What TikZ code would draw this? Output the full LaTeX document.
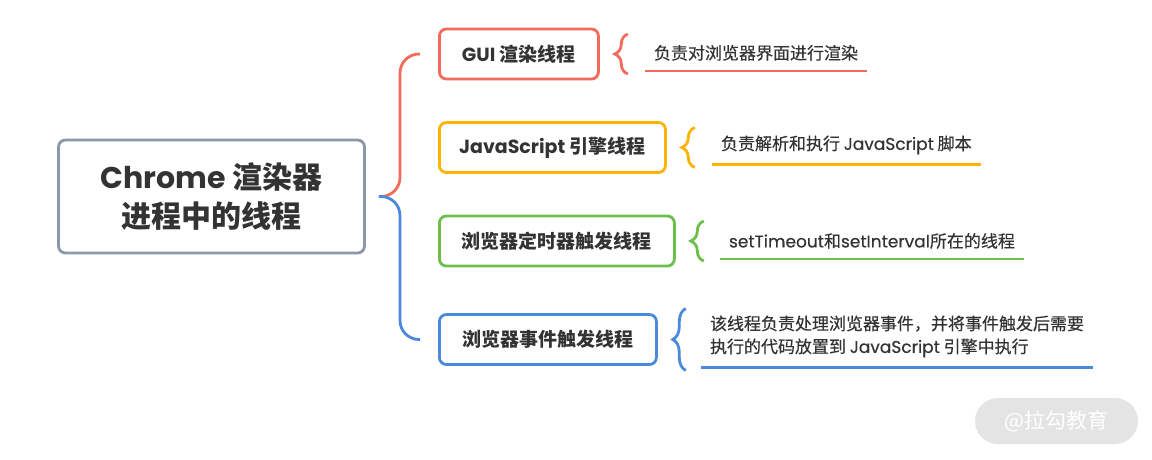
\documentclass[tikz,border=0pt]{standalone}
\usepackage{fontspec}
\setmainfont{Noto Sans CJK SC}
\newfontfamily\lat{Poppins}
\newfontfamily\medfont[FakeBold=0.35]{Noto Sans CJK SC}
\newfontfamily\medlat[FakeBold=0.35]{Poppins}
\usetikzlibrary{positioning,calc,decorations.pathreplacing}
\definecolor{rootc}{HTML}{8C97A8}
\definecolor{guic}{HTML}{F26B5B}
\definecolor{jsc}{HTML}{FDB300}
\definecolor{timerc}{HTML}{6CC04A}
\definecolor{eventc}{HTML}{4A89DC}
\definecolor{ink}{HTML}{333333}
\definecolor{markbg}{HTML}{E4E4E4}
\newcommand{\en}[1]{{\lat #1}}
\newcommand{\men}[1]{{\medlat #1}}
\tikzset{
  rootbox/.style={draw=rootc,line width=2.8pt,rounded corners=7pt,minimum width=306pt,
    minimum height=113pt,align=center,font=\fontsize{30}{39}\selectfont\bfseries,text=ink},
  tbox/.style={draw=#1,line width=2.8pt,rounded corners=7pt,minimum height=50pt,anchor=west,
    font=\fontsize{19}{22}\selectfont\bfseries,text=ink},
  desc/.style={anchor=south west,inner xsep=9pt,inner ysep=10pt,align=left,
    font=\fontsize{17}{23}\selectfont\medfont,text=ink},
  uline/.style={draw=#1,line width=2.8pt},
  curly/.style={draw=#1,line width=2.8pt,decorate,decoration={brace,amplitude=13pt}},
  branch/.style={draw=#1,line width=2.8pt,rounded corners=19pt},
}
\begin{document}
\begin{tikzpicture}[x=1pt,y=-1pt]
  \useasboundingbox[fill=white] (0,0) rectangle (1152,459);
  % root and the four threads
  \node[rootbox] (root) at (211.5,196.5) {\en{Chrome} 渲染器\\进程中的线程};
  \node[tbox=guic,minimum width=159pt] (gui) at (438,54) {\en{GUI} 渲染线程};
  \node[tbox=jsc,minimum width=226pt] (js) at (438,147.5) {\en{JavaScript} 引擎线程};
  \node[tbox=timerc,minimum width=235pt] (timer) at (438,241) {浏览器定时器触发线程};
  \node[tbox=eventc,minimum width=217pt] (event) at (438,339.5) {浏览器事件触发线程};
  % branches
  \coordinate (fork) at ($(root.east)+(13,0)$);
  \draw[branch=guic] (fork) -| ($(gui.west)+(-38,0)$) -- ($(gui.west)+(-18,0)$);
  \draw[branch=eventc] (fork) -| ($(event.west)+(-38,0)$) -- ($(event.west)+(-18,0)$);
  % descriptions
  \node[desc] (guid) at ($(gui.east)+(45,17)$) {负责对浏览器界面进行渲染};
  \node[desc] (jsd) at ($(js.east)+(45,17)$) {负责解析和执行 \men{JavaScript} 脚本};
  \node[desc] (timerd) at ($(timer.east)+(44,18)$) {\men{setTimeout}和\men{setInterval}所在的线程};
  \node[desc] (eventd) at ($(event.east)+(43,28)$)
    {该线程负责处理浏览器事件，并将事件触发后需要\\执行的代码放置到 \men{JavaScript} 引擎中执行};
  \foreach \b/\c/\h in {gui/guic/20,js/jsc/20,timer/timerc/20,event/eventc/31}
    \draw[curly=\c] ($(\b.east)+(28,\h)$) -- ($(\b.east)+(28,-\h)$);
  \foreach \d/\c in {guid/guic,jsd/jsc,timerd/timerc,eventd/eventc}
    \draw[uline=\c] (\d.south west) -- (\d.south east);
  % watermark
  \node[fill=markbg,rounded corners=23pt,minimum width=163pt,minimum height=46pt,
    text=white,font=\fontsize{21}{21}\selectfont] (mark) at (1056.5,421) {@拉勾教育};
\end{tikzpicture}
\end{document}
